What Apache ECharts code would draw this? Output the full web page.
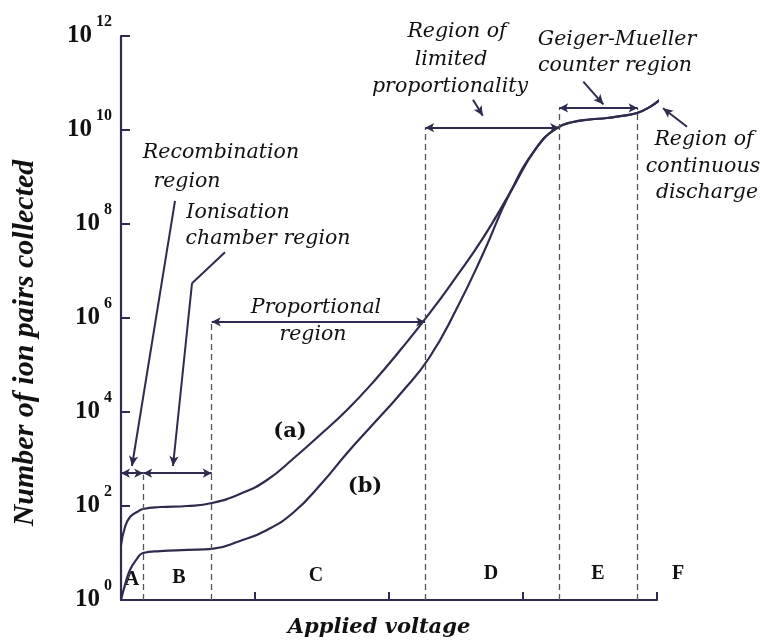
<!DOCTYPE html>
<html>
<head>
<meta charset="utf-8">
<script src="https://cdn.jsdelivr.net/npm/echarts@6/dist/echarts.min.js"></script>
<style>html,body{margin:0;padding:0;background:#fff;}#c{width:770px;height:641px;}</style>
</head>
<body>
<div id="c"></div>
<script>
// Curve (a): applied voltage (arbitrary units, 0-4) vs number of ion pairs collected
var curveAX = [0, 0.030, 0.067, 0.119, 0.164, 0.291, 0.493, 0.679, 0.888, 1.090, 1.291, 1.493, 1.694, 1.896, 2.097, 2.299, 2.500, 2.701, 2.903, 3.104, 3.254, 3.373, 3.500, 3.627, 3.739, 3.851, 3.948, 4.037];
var curveAY = [14.8, 35.7, 58.3, 74.5, 86.3, 95.2, 100, 116, 180, 357, 1050, 3400, 11600, 48000, 2.3e5, 1.22e6, 7.4e6, 5.0e7, 4.6e8, 4.3e9, 1.1e10, 1.48e10, 1.67e10, 1.8e10, 1.99e10, 2.3e10, 3.1e10, 4.8e10];
// Curve (b): joins curve (a) in the region of limited proportionality
var curveBX = [0, 0.030, 0.067, 0.119, 0.164, 0.291, 0.493, 0.679, 0.888, 1.090, 1.291, 1.493, 1.694, 1.896, 2.097, 2.299, 2.500, 2.701, 2.903, 3.104, 3.254, 3.373, 3.500, 3.627, 3.739, 3.851, 3.948, 4.037];
var curveBY = [1, 2.1, 4.35, 7.5, 10, 11, 11.6, 12.2, 18, 31, 74.5, 294, 1410, 6120, 26700, 1.41e5, 1.48e6, 2.3e7, 4.6e8, 4.3e9, 1.1e10, 1.48e10, 1.67e10, 1.8e10, 1.99e10, 2.3e10, 3.1e10, 4.8e10];
// Region boundaries (x) and the heights of their dashed lines
var boundaryX = [0.166, 0.677, 2.27, 3.27, 3.855];
var boundaryTop = [460, 8.3e5, 1.12e10, 2.95e10, 2.95e10];
var regionLetters = ['A', 'B', 'C', 'D', 'E', 'F'];
// Y tick values
var yTicks = [1, 1e2, 1e4, 1e6, 1e8, 1e10, 1e12];

var ink = '#2d2c4e';
var chart = echarts.init(document.getElementById('c'), null, {renderer: 'canvas'});

function pairs(xs, ys) { return xs.map(function (x, i) { return [x, ys[i]]; }); }

var dashedData = boundaryX.map(function (x, i) {
  return [{coord: [x, 1]}, {coord: [x, boundaryTop[i]]}];
});
var doubleArrowData = [
  [{coord: [0, 500]}, {coord: [boundaryX[0], 500]}],
  [{coord: [boundaryX[0], 500]}, {coord: [boundaryX[1], 500]}],
  [{coord: [boundaryX[1], 8.3e5]}, {coord: [boundaryX[2], 8.3e5]}],
  [{coord: [boundaryX[2], 1.12e10]}, {coord: [boundaryX[3], 1.12e10]}],
  [{coord: [boundaryX[3], 2.95e10]}, {coord: [boundaryX[4], 2.95e10]}]
];
var pointerData = [
  [{coord: [0.403, 3.1e8]}, {coord: [0.082, 710]}],
  [{coord: [0.53, 5.5e6]}, {coord: [0.388, 710]}],
  [{coord: [2.627, 4.4e10]}, {coord: [2.70, 2.0e10]}],
  [{coord: [3.45, 1.07e11]}, {coord: [3.60, 3.5e10]}]
];
var plainData = [
  [{coord: [0.776, 2.5e7]}, {coord: [0.53, 5.5e6]}]
];
var outsideData = [
  [{coord: [4.224, 1.17e10]}, {coord: [4.045, 2.9e10]}]
];

var serif = 'DejaVu Serif';
function note(text, x, y, size) {
  return {type: 'text', x: x, y: y, silent: true, style: {text: text, fontFamily: serif, fontStyle: 'italic', fontSize: size || 20, fill: '#111', align: 'center', verticalAlign: 'middle'}};
}
function bold(text, x, y, size, fam) {
  return {type: 'text', x: x, y: y, silent: true, style: {text: text, fontFamily: fam || 'Liberation Serif', fontWeight: 'bold', fontSize: size, fill: '#111', align: 'center', verticalAlign: 'middle'}};
}

var letterPos = [[132, 580], [179, 578], [316, 576], [491, 574], [598, 574], [678, 574]];
var graphics = [
  note('Recombination', 221, 153, 20.5), note('region', 187, 182, 20.5),
  note('Ionisation', 238, 213, 20.5), note('chamber region', 268, 239, 20.5),
  note('Proportional', 316, 308, 20.5), note('region', 313, 335, 20.5),
  note('Region of', 457, 32, 20.5), note('limited', 451, 60, 20.5), note('proportionality', 450, 87, 20.5),
  note('Geiger-Mueller', 617, 40, 20.5), note('counter region', 615, 66, 20.5),
  note('Region of', 704, 140, 20.5), note('continuous', 703, 167, 20.5), note('discharge', 707, 193, 20.5),
  bold('(a)', 290, 432, 21, 'DejaVu Serif'), bold('(b)', 365, 487, 21, 'DejaVu Serif'),
  {type: 'text', x: 379, y: 628, silent: true, style: {text: 'Applied voltage', fontFamily: serif, fontStyle: 'italic', fontWeight: 'bold', fontSize: 21, fill: '#111', align: 'center', verticalAlign: 'middle'}},
  {type: 'text', x: 25, y: 343, rotation: Math.PI / 2, silent: true, style: {text: 'Number of ion pairs collected', fontFamily: 'Liberation Serif', fontStyle: 'italic', fontWeight: 'bold', fontSize: 30, fill: '#111', align: 'center', verticalAlign: 'middle'}}
];
regionLetters.forEach(function (l, i) { graphics.push(bold(l, letterPos[i][0], letterPos[i][1], 20)); });

var option = {
  backgroundColor: '#fff',
  animation: false,
  grid: [
    {left: 121, right: 113, top: 36, bottom: 41},
    {left: 121, width: 589.6, top: 36, bottom: 41}
  ],
  xAxis: [
    {type: 'value', gridIndex: 0, min: 0, max: 4, interval: 1,
      axisLine: {show: true, lineStyle: {color: ink, width: 2.2}},
      axisTick: {show: true, inside: true, length: 8, lineStyle: {color: ink, width: 2}},
      axisLabel: {show: false}, splitLine: {show: false}},
    {type: 'value', gridIndex: 1, min: 0, max: 4.4, show: false}
  ],
  yAxis: [
    {type: 'log', gridIndex: 0, logBase: 10, min: 1, max: 1e12,
      axisLine: {show: true, lineStyle: {color: ink, width: 2.2}},
      axisTick: {show: true, inside: true, length: 9, lineStyle: {color: ink, width: 2}, customValues: yTicks},
      axisLabel: {show: true, margin: 9, customValues: yTicks,
        formatter: function (v) { var e = Math.round(Math.log(v) / Math.LN10); return '{b|10}{s|' + e + '}'; },
        rich: {
          b: {fontFamily: 'Liberation Serif', fontWeight: 'bold', fontSize: 25, color: '#111', lineHeight: 44},
          s: {fontFamily: 'Liberation Serif', fontWeight: 'bold', fontSize: 16, color: '#111', lineHeight: 14, verticalAlign: 'top', padding: [0, 0, 0, 4]}
        }},
      splitLine: {show: false}},
    {type: 'log', gridIndex: 1, logBase: 10, min: 1, max: 1e12, show: false}
  ],
  series: [
    {type: 'line', name: '(a)', xAxisIndex: 0, yAxisIndex: 0, data: pairs(curveAX, curveAY), smooth: 0.5, showSymbol: false, clip: false, lineStyle: {color: ink, width: 2.2}},
    {type: 'line', name: '(b)', xAxisIndex: 0, yAxisIndex: 0, data: pairs(curveBX, curveBY), smooth: 0.5, showSymbol: false, clip: false, lineStyle: {color: ink, width: 2.2}},
    {type: 'line', xAxisIndex: 0, yAxisIndex: 0, data: [], markLine: {silent: true, symbol: ['none', 'none'], label: {show: false}, lineStyle: {color: '#555', width: 1.3, type: [6, 4]}, data: dashedData}},
    {type: 'line', xAxisIndex: 0, yAxisIndex: 0, data: [], markLine: {silent: true, symbol: ['arrow', 'arrow'], symbolSize: [7, 9], label: {show: false}, lineStyle: {color: ink, width: 2, type: 'solid'}, data: doubleArrowData}},
    {type: 'line', xAxisIndex: 0, yAxisIndex: 0, data: [], markLine: {silent: true, symbol: ['none', 'arrow'], symbolSize: [7, 10], label: {show: false}, lineStyle: {color: ink, width: 2, type: 'solid'}, data: pointerData}},
    {type: 'line', xAxisIndex: 0, yAxisIndex: 0, data: [], markLine: {silent: true, symbol: ['none', 'none'], label: {show: false}, lineStyle: {color: ink, width: 2, type: 'solid'}, data: plainData}},
    {type: 'line', xAxisIndex: 1, yAxisIndex: 1, data: [], markLine: {silent: true, symbol: ['none', 'arrow'], symbolSize: [7, 10], label: {show: false}, lineStyle: {color: ink, width: 2, type: 'solid'}, data: outsideData}}
  ],
  graphic: graphics
};
chart.setOption(option);
</script>
</body>
</html>
